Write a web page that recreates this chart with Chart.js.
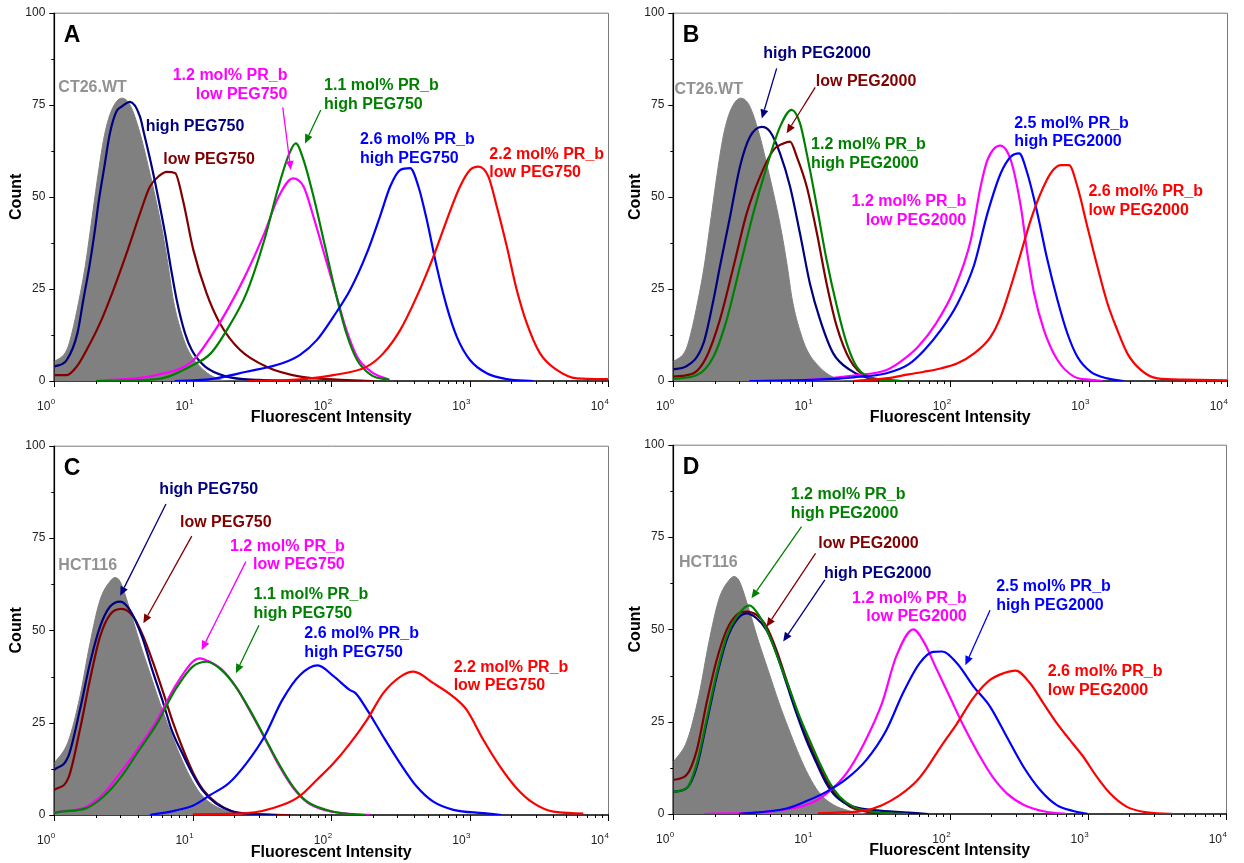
<!DOCTYPE html>
<html>
<head>
<meta charset="utf-8">
<script src="https://cdn.jsdelivr.net/npm/chart.js@4/dist/chart.umd.min.js"></script>
<style>
  body { margin: 0; background: #fff; }
  .panel { position: absolute; }
</style>
</head>
<body>
<canvas id="pA" class="panel" width="622" height="432" style="left:0;top:0"></canvas>
<canvas id="pB" class="panel" width="622" height="432" style="left:622px;top:0"></canvas>
<canvas id="pC" class="panel" width="622" height="431" style="left:0;top:432px"></canvas>
<canvas id="pD" class="panel" width="622" height="431" style="left:622px;top:432px"></canvas>
<script>
// histogram channels (fluorescence) and counts, one pair of arrays per curve

// CT26.WT control, panels A and B
const ct26X = [1, 1.23, 1.34, 1.51, 1.67, 1.81, 1.95, 2.11, 2.32, 2.6, 3.07, 3.52, 4.16, 4.78, 5.43, 6.07, 6.67, 7.24, 8.32, 9.25, 11.3, 14, 17.7, 25];
const ct26Y = [5.2, 8.4, 13, 22, 31, 40.2, 49.1, 58.2, 67.3, 73.6, 76.8, 75, 67.3, 58.2, 49.1, 40.2, 31, 22, 13, 8.4, 3.9, 1.2, 0, 0];
// HCT116 control, panels C and D
const hctX = [1, 1.26, 1.53, 1.81, 2.14, 2.52, 2.75, 2.99, 3.52, 4.16, 4.91, 5.81, 6.85, 8.09, 9.55, 11.3, 14.1, 18.6, 24.5];
const hctY = [14, 19.9, 32, 46.5, 58.2, 63.2, 64.3, 63.2, 55.5, 46.5, 38.4, 30.2, 23, 16.2, 10.4, 5.9, 2.7, 0.9, 0];

// panel A
const aHighX = [1, 1.23, 1.47, 1.62, 1.79, 1.95, 2.1, 2.3, 2.52, 2.82, 3.07, 3.52, 4.16, 4.45, 5.06, 5.68, 6.31, 6.93, 7.66, 8.79, 9.84, 12.3, 17.6, 30, 60];
const aHighY = [3.9, 5.7, 13, 22, 31, 40.1, 49.1, 58.2, 67.2, 73.3, 74.5, 75.8, 71.8, 67.2, 58.2, 49.1, 40.1, 31, 22, 13, 8.4, 3.9, 1.2, 0.3, 0];
const aLowX = [1, 1.23, 1.45, 1.71, 2.14, 2.67, 3.33, 4.16, 4.91, 5.81, 6.49, 7.45, 8.5, 10.1, 12.6, 15.7, 22, 34, 60, 110, 200];
const aLowY = [1.6, 1.6, 3.9, 8.4, 15.7, 24.7, 34.7, 45.5, 52.8, 55.9, 56.8, 56.5, 49.1, 35.6, 23.8, 15.7, 8.4, 3.9, 1.2, 0.4, 0];
const a12X = [2, 5.5, 10, 13.5, 18.2, 24.4, 32.9, 41.7, 53, 63.2, 75.7, 90.4, 108, 129, 154, 195, 263];
const a12Y = [0, 1.6, 5.5, 12, 20, 29.2, 40.1, 50, 55, 52.8, 43.7, 33.7, 23.8, 13.8, 6.6, 2.5, 0.3];
const a11X = [2, 5.5, 10, 13.5, 18.2, 24.4, 32.9, 41.7, 49.9, 55.5, 63.2, 75.7, 90.4, 108, 129, 154, 195, 263];
const a11Y = [0, 0.5, 4.3, 7.5, 14.7, 23.8, 38.3, 52.8, 61.8, 64.5, 60, 49.1, 36.5, 23.8, 12.9, 5.7, 1.6, 0.3];
const a26X = [7.4, 13.5, 24.4, 44.3, 59.6, 78.7, 104, 137, 181, 225, 267, 315, 372, 427, 491, 579, 684, 809, 1007, 1330, 1858, 2880];
const a26Y = [0, 0.5, 2.5, 4.8, 7.1, 11.1, 17.5, 24.7, 34.7, 44.6, 52.8, 57.3, 57.8, 52.8, 43.7, 31, 20.2, 12, 5.7, 2.1, 0.5, 0];
const a22X = [25, 63, 104, 181, 238, 315, 415, 547, 684, 853, 1007, 1159, 1368, 1574, 1858, 2193, 2588, 3228, 4266, 5957, 10000];
const a22Y = [0, 0.5, 1.6, 3.9, 7.5, 13.8, 22.9, 33.7, 43.7, 52.8, 57.3, 58.2, 55.5, 47.3, 36.5, 24.7, 15.7, 7.5, 3, 0.7, 0.5];

// panel B
const bHighX = [1, 1.23, 1.65, 1.95, 2.17, 2.57, 3.03, 3.58, 4.36, 5, 5.9, 6.97, 8.22, 9.7, 11.5, 14.3, 18.9, 26.3, 43.6];
const bHighY = [3.2, 3.9, 10.2, 22, 31, 44.6, 58.2, 66.3, 69, 67.7, 61.8, 52.8, 40.1, 26.5, 16.6, 7.5, 3, 0.7, 0];
const bLowX = [1, 1.4, 1.74, 2.17, 2.72, 3.39, 4.23, 5.28, 6.24, 6.97, 7.8, 9.2, 10.9, 12.8, 15.2, 18.9, 24.9, 39.8];
const bLowY = [1.2, 2.1, 6.6, 16.6, 31, 45.5, 55.5, 62.7, 64.5, 65, 60.9, 52.8, 40.1, 26.5, 14.7, 5.7, 1.2, 0];
const b12hiX = [1, 1.48, 1.95, 2.43, 3.03, 3.78, 4.73, 5.9, 7.16, 8.22, 9.2, 10.9, 12.8, 15.2, 17.9, 21.1, 27.9, 44.7];
const b12hiY = [0.6, 1.6, 6.6, 16.6, 31, 45.5, 58.2, 69, 73.6, 70, 61.8, 47.3, 32.9, 20.2, 10.2, 3.9, 0.7, 0];
const b12loX = [3.55, 10, 20, 34.7, 43.6, 58.6, 78.9, 106, 141, 166, 186, 230, 274, 324, 361, 404, 476, 596, 785, 1038, 1260];
const b12loY = [0, 0.4, 1.5, 3, 5.2, 9.3, 15.6, 24.5, 38.3, 52.8, 60, 63.9, 60, 47.3, 34.7, 23.8, 13.8, 5.7, 1.2, 0.3, 0];
const b25X = [3.55, 10, 20, 34.7, 50, 64.7, 85.5, 113, 149, 186, 232, 274, 315, 361, 427, 504, 596, 703, 830, 1038, 1368, 1800];
const b25Y = [0, 0.3, 1, 2.1, 4.5, 8.3, 13.8, 21, 31.5, 45.5, 56.4, 60.9, 61.8, 56.4, 45.5, 32.9, 22, 12.9, 6.6, 2.5, 0.7, 0];
const b26X = [20, 35.5, 50, 64.7, 85.5, 113, 149, 196, 232, 274, 324, 382, 451, 532, 628, 723, 830, 980, 1159, 1368, 1614, 1905, 2382, 3141, 4898, 10000];
const b26Y = [0, 0.8, 1.8, 2.5, 3.4, 4.8, 7.5, 12, 17.5, 25.6, 34.7, 43.7, 51, 56.4, 58.6, 58.6, 52.8, 41.9, 31, 21.1, 13.8, 7.5, 3, 0.7, 0.4, 0.2];

// panel C
const cHighX = [1, 1.26, 1.53, 1.81, 2.14, 2.52, 2.99, 3.52, 4.3, 5.1, 6.14, 7.05, 8.4, 9.9, 11.7, 14.6, 19, 26, 40];
const cHighY = [12.2, 15.8, 28.4, 41.1, 51, 56.4, 57.8, 55.5, 48.3, 39.3, 30.2, 23, 16.7, 11.3, 6.8, 3.2, 1.1, 0.3, 0];
const cLowX = [1, 1.26, 1.53, 1.81, 2.14, 2.52, 3.07, 3.72, 4.4, 5.19, 6.14, 7.24, 8.55, 10.1, 11.9, 14.9, 19.6, 27, 50];
const cLowY = [6.8, 9.9, 23, 36.6, 48.3, 54.2, 55.8, 53.7, 48.3, 41.1, 33, 24.8, 17.6, 11.3, 6.8, 3.2, 0.9, 0.3, 0];
const c11X = [1, 1.11, 1.69, 2.27, 3.05, 4.11, 5.53, 7.45, 10, 12.7, 16.1, 20.5, 25.9, 32.9, 41.7, 53, 67.1, 90.4, 129, 178];
const c11Y = [0.5, 0.9, 1.8, 5, 10.4, 17.6, 24.8, 33.8, 40.2, 41.5, 39.3, 34.7, 28.4, 21.2, 14, 7.7, 3.6, 1.5, 0.3, 0];
const c12X = [1, 1.11, 1.69, 2.27, 3.05, 4.11, 5.53, 7.45, 10, 11.3, 12.7, 16.1, 20.5, 25.9, 32.9, 41.7, 53, 67.1, 90.4, 129, 190];
const c12Y = [0.5, 0.9, 2.2, 5.8, 11.8, 18.5, 25.8, 34.8, 41.5, 42.4, 41.8, 39.5, 34.7, 28.2, 21, 13.6, 7.4, 3.4, 1.3, 0.4, 0];
const c26X = [4.9, 7.45, 10, 13.5, 18.2, 24.4, 32.9, 44.3, 59.6, 80, 104, 137, 150, 181, 238, 315, 415, 547, 764, 1260, 1700];
const c26Y = [0, 1.2, 2.5, 5.5, 8.6, 14, 21.2, 31.1, 37.9, 40.5, 37.6, 33.8, 33, 28.6, 21.2, 14, 7.7, 3.6, 1.4, 0.5, 0];
const c22X = [10, 24.4, 44.3, 59.6, 78.7, 104, 137, 181, 238, 315, 393, 547, 764, 955, 1259, 1660, 2193, 2897, 4036, 6637];
const c22Y = [0.2, 0.5, 2.7, 5.2, 9.5, 14, 19.4, 25.7, 33, 37.4, 38.8, 35.7, 32, 28.4, 20.3, 13.1, 7.2, 3.2, 0.9, 0.4];

// panel D
const dHighX = [1, 1.25, 1.48, 1.74, 2.06, 2.43, 2.87, 3.39, 4, 4.73, 5.58, 6.59, 7.78, 9.18, 10.9, 12.8, 15.1, 20, 31.1, 60.3, 70];
const dHighY = [6, 7, 12.8, 24.6, 37.2, 47.1, 52.5, 54.3, 53, 49.8, 43.5, 35.4, 27.3, 20, 13.7, 8.3, 4.7, 2, 0.9, 0.2, 0];
const dLowX = [1, 1.25, 1.48, 1.74, 2.06, 2.43, 2.87, 3.39, 4, 4.73, 5.58, 6.59, 7.78, 9.18, 10.9, 12.8, 15.1, 18.9, 24.9, 45];
const dLowY = [9.2, 10.6, 17.3, 30, 41.7, 49.8, 53.9, 54.8, 53.9, 50.7, 44.4, 36.3, 28.2, 20.9, 14.6, 9.2, 5.1, 2, 0.6, 0];
const d12hiX = [1, 1.25, 1.48, 1.74, 2.06, 2.43, 2.87, 3.55, 4.23, 5, 5.9, 6.97, 8.22, 9.7, 11.5, 13.6, 16, 20, 27.9, 50];
const d12hiY = [6, 7, 13.7, 25.5, 38.1, 48, 53.4, 56.5, 53.4, 48, 40.8, 33.6, 26.3, 20, 13.7, 8.3, 4.7, 2, 0.6, 0];
const d12loX = [1.66, 5.4, 9.86, 13.3, 17.9, 24, 32.4, 41, 54.6, 65.9, 78.9, 100, 127, 161, 204, 259, 348, 498, 700];
const d12loY = [0, 0.8, 2.9, 6, 11, 19.1, 30, 42.6, 50, 46.2, 39.9, 31.8, 23.6, 16.4, 10.1, 5.6, 2.4, 0.6, 0];
const d25X = [3, 6.6, 9.2, 12.8, 17.9, 24.9, 34.8, 45.9, 60.5, 75.7, 88, 113, 149, 196, 259, 342, 452, 596, 785, 1000];
const d25Y = [0, 1.5, 3.5, 6, 9.5, 14.6, 22.7, 32.7, 40.8, 43.9, 44, 40.8, 34.5, 29.1, 20.9, 12.8, 6.5, 2.4, 0.8, 0];
const d26X = [11.1, 24, 32.4, 43.6, 58.6, 70, 85.5, 113, 149, 196, 245, 300, 382, 476, 596, 743, 927, 1159, 1445, 1905, 2512, 4170];
const d26Y = [0.2, 0.9, 2.4, 5.1, 9.2, 13, 18, 24.5, 31.5, 36.3, 38.1, 38.8, 35.4, 30, 24.6, 20, 15.5, 10.1, 5.6, 2, 0.6, 0];

// axis ticks
const decades = [1, 10, 100, 1000, 10000];
const decadeExp = ["0", "1", "2", "3", "4"];
const countTicks = [0, 12.5, 25, 37.5, 50, 62.5, 75, 87.5, 100];

const FONT = 'Arial, "Liberation Sans", Helvetica, sans-serif';
const COL = {
  gray: "#808080", grayText: "#929292", navy: "#000080", maroon: "#800000",
  magenta: "#ff00ff", green: "#008000", blue: "#0000ff", red: "#ff0000",
};

function pts(xs, ys) { return xs.map((x, i) => ({ x, y: ys[i] })); }

function curve(xs, ys, color, order) {
  return { data: pts(xs, ys), borderColor: color, borderWidth: 2.2, pointRadius: 0,
    cubicInterpolationMode: "monotone", fill: false, order };
}
function control(xs, ys) {
  return { data: pts(xs, ys), borderColor: COL.gray, backgroundColor: COL.gray, borderWidth: 1,
    pointRadius: 0, cubicInterpolationMode: "monotone", fill: "origin", order: 10 };
}

function drawArrow(ctx, x1, y1, x2, y2, color) {
  const ang = Math.atan2(y2 - y1, x2 - x1);
  const len = 9, half = 4;
  const bx = x2 - len * Math.cos(ang), by = y2 - len * Math.sin(ang);
  ctx.strokeStyle = color; ctx.fillStyle = color; ctx.lineWidth = 1.3;
  ctx.beginPath(); ctx.moveTo(x1, y1); ctx.lineTo(bx, by); ctx.stroke();
  ctx.beginPath();
  ctx.moveTo(x2, y2);
  ctx.lineTo(bx + half * Math.sin(ang), by - half * Math.cos(ang));
  ctx.lineTo(bx - half * Math.sin(ang), by + half * Math.cos(ang));
  ctx.closePath(); ctx.fill();
}

// frame, tick marks, decade labels, panel letter and curve annotations
const deco = {
  id: "deco",
  beforeDatasetsDraw(chart) {
    const { ctx, chartArea: a, scales: { x, y } } = chart;
    ctx.save();
    ctx.strokeStyle = "#7a7a7a"; ctx.lineWidth = 1;
    ctx.beginPath();
    ctx.moveTo(a.left, a.top + 0.5); ctx.lineTo(a.right + 0.5, a.top + 0.5); ctx.lineTo(a.right + 0.5, a.bottom);
    ctx.stroke();

    ctx.strokeStyle = "#000"; ctx.lineWidth = 1;
    ctx.beginPath();
    for (const v of countTicks) {
      const py = Math.round(y.getPixelForValue(v)) + 0.5;
      const len = v % 25 === 0 ? 5 : 3;
      ctx.moveTo(a.left - len, py); ctx.lineTo(a.left, py);
    }
    for (let d = 0; d < 4; d++) {
      for (let m = 2; m <= 9; m++) {
        const px = Math.round(x.getPixelForValue(m * decades[d])) + 0.5;
        ctx.moveTo(px, a.bottom); ctx.lineTo(px, a.bottom + 3);
      }
    }
    for (const v of decades) {
      const px = Math.round(x.getPixelForValue(v)) + 0.5;
      ctx.moveTo(px, a.bottom); ctx.lineTo(px, a.bottom + 6);
    }
    ctx.stroke();

    ctx.lineWidth = 1.6;
    ctx.beginPath();
    ctx.moveTo(a.left, a.top); ctx.lineTo(a.left, a.bottom); ctx.lineTo(a.right + 1, a.bottom);
    ctx.stroke();
    ctx.restore();
  },
  afterDatasetsDraw(chart, args, o) {
    const { ctx, chartArea: a, scales: { x, y } } = chart;
    ctx.save();
    ctx.fillStyle = "#222";
    ctx.textBaseline = "alphabetic";
    decades.forEach((v, i) => {
      const px = x.getPixelForValue(v) - 4;
      ctx.font = `12px ${FONT}`; ctx.textAlign = "right";
      ctx.fillText("10", px, a.bottom + 29);
      ctx.font = `8px ${FONT}`; ctx.textAlign = "left";
      ctx.fillText(decadeExp[i], px + 0.5, a.bottom + 23);
    });

    ctx.fillStyle = "#000";
    ctx.font = `bold 23px ${FONT}`;
    ctx.textAlign = "left";
    ctx.fillText(o.letter, x.getPixelForValue(1.17), y.getPixelForValue(92));

    ctx.font = `bold 16px ${FONT}`;
    ctx.textBaseline = "middle";
    for (const l of o.labels) {
      ctx.fillStyle = l.color;
      ctx.textAlign = l.align || "left";
      const px = x.getPixelForValue(l.x), py = y.getPixelForValue(l.y);
      l.text.forEach((t, i) => ctx.fillText(t, px, py + i * 18.7));
    }
    for (const ar of o.arrows) {
      drawArrow(ctx, x.getPixelForValue(ar.from[0]), y.getPixelForValue(ar.from[1]),
        x.getPixelForValue(ar.to[0]), y.getPixelForValue(ar.to[1]), ar.color);
    }
    ctx.restore();
  },
};

function makePanel(id, p) {
  return new Chart(document.getElementById(id), {
    type: "line",
    data: { datasets: p.datasets },
    options: {
      responsive: false,
      animation: false,
      events: [],
      layout: { padding: { left: 0, top: p.top, right: p.right, bottom: 0 } },
      scales: {
        x: {
          type: "logarithmic", min: 1, max: 10000,
          ticks: { display: false }, grid: { display: false }, border: { display: false },
          title: { display: true, text: "Fluorescent Intensity", color: "#000",
            font: { family: FONT, size: 16, weight: "bold" }, padding: { top: 0, bottom: p.xTitlePad } },
          afterFit: (s) => { s.height = p.xHeight; },
        },
        y: {
          min: 0, max: 100,
          ticks: { stepSize: 25, color: "#222", padding: 4, font: { family: FONT, size: 12 } },
          grid: { display: false, drawTicks: true, tickLength: 5 }, border: { display: false },
          title: { display: true, text: "Count", color: "#000",
            font: { family: FONT, size: 16, weight: "bold" }, padding: { top: p.yTitlePad, bottom: 0 } },
          afterFit: (s) => { s.width = p.yWidth; },
        },
      },
      plugins: {
        legend: { display: false },
        tooltip: { enabled: false },
        deco: { letter: p.letter, labels: p.labels, arrows: p.arrows },
      },
    },
    plugins: [deco],
  });
}

makePanel("pA", {
  letter: "A", top: 12.7, right: 14, yWidth: 54.3, xHeight: 51, yTitlePad: 6.7, xTitlePad: 4.4,
  datasets: [
    control(ct26X, ct26Y),
    curve(aLowX, aLowY, COL.maroon, 6),
    curve(aHighX, aHighY, COL.navy, 5),
    curve(a12X, a12Y, COL.magenta, 4),
    curve(a11X, a11Y, COL.green, 3),
    curve(a26X, a26Y, COL.blue, 2),
    curve(a22X, a22Y, COL.red, 1),
  ],
  labels: [
    { text: ["CT26.WT"], x: 1.07, y: 79.6, color: COL.grayText },
    { text: ["high PEG750"], x: 4.57, y: 69.2, color: COL.navy },
    { text: ["low PEG750"], x: 6.13, y: 60, color: COL.maroon },
    { text: ["1.2 mol% PR_b", "low PEG750"], x: 48.3, y: 82.8, color: COL.magenta, align: "right" },
    { text: ["1.1 mol% PR_b", "high PEG750"], x: 88.9, y: 80.1, color: COL.green },
    { text: ["2.6 mol% PR_b", "high PEG750"], x: 161.8, y: 65.6, color: COL.blue },
    { text: ["2.2 mol% PR_b", "low PEG750"], x: 1390, y: 61.6, color: COL.red },
  ],
  arrows: [
    { from: [44.7, 74.3], to: [51.1, 57.3], color: COL.magenta },
    { from: [84.1, 73.6], to: [64.7, 64.5], color: COL.green },
  ],
});

makePanel("pB", {
  letter: "B", top: 12.7, right: 17, yWidth: 51.3, xHeight: 51, yTitlePad: 3.9, xTitlePad: 4.4,
  datasets: [
    control(ct26X, ct26Y),
    curve(bLowX, bLowY, COL.maroon, 5),
    curve(bHighX, bHighY, COL.navy, 6),
    curve(b12loX, b12loY, COL.magenta, 4),
    curve(b12hiX, b12hiY, COL.green, 3),
    curve(b25X, b25Y, COL.blue, 2),
    curve(b26X, b26Y, COL.red, 1),
  ],
  labels: [
    { text: ["CT26.WT"], x: 1.02, y: 79, color: COL.grayText },
    { text: ["high PEG2000"], x: 4.47, y: 89, color: COL.navy },
    { text: ["low PEG2000"], x: 10.7, y: 81.3, color: COL.maroon },
    { text: ["1.2 mol% PR_b", "high PEG2000"], x: 9.89, y: 64.1, color: COL.green },
    { text: ["1.2 mol% PR_b", "low PEG2000"], x: 130.7, y: 48.7, color: COL.magenta, align: "right" },
    { text: ["2.5 mol% PR_b", "high PEG2000"], x: 290, y: 70, color: COL.blue },
    { text: ["2.6 mol% PR_b", "low PEG2000"], x: 997, y: 51.4, color: COL.red },
  ],
  arrows: [
    { from: [5.58, 84.9], to: [4.36, 71.3], color: COL.navy },
    { from: [10.6, 79.7], to: [6.59, 67.3], color: COL.maroon },
  ],
});

makePanel("pC", {
  letter: "C", top: 13.7, right: 14, yWidth: 54.3, xHeight: 48, yTitlePad: 6.7, xTitlePad: 0.9,
  datasets: [
    control(hctX, hctY),
    curve(cLowX, cLowY, COL.maroon, 6),
    curve(cHighX, cHighY, COL.navy, 5),
    curve(c12X, c12Y, COL.magenta, 4),
    curve(c11X, c11Y, COL.green, 3),
    curve(c26X, c26Y, COL.blue, 2),
    curve(c22X, c22Y, COL.red, 1),
  ],
  labels: [
    { text: ["HCT116"], x: 1.07, y: 67.5, color: COL.grayText },
    { text: ["high PEG750"], x: 5.74, y: 88, color: COL.navy },
    { text: ["low PEG750"], x: 8.09, y: 79.3, color: COL.maroon },
    { text: ["1.2 mol% PR_b", "low PEG750"], x: 125.3, y: 72.8, color: COL.magenta, align: "right" },
    { text: ["1.1 mol% PR_b", "high PEG750"], x: 27.5, y: 59.6, color: COL.green },
    { text: ["2.6 mol% PR_b", "high PEG750"], x: 64, y: 49, color: COL.blue },
    { text: ["2.2 mol% PR_b", "low PEG750"], x: 767, y: 40, color: COL.red },
  ],
  arrows: [
    { from: [6.41, 84.2], to: [2.99, 59.4], color: COL.navy },
    { from: [9.84, 75.5], to: [4.4, 51.9], color: COL.maroon },
    { from: [24.2, 68.6], to: [11.6, 44.7], color: COL.magenta },
    { from: [30.1, 51.4], to: [20.5, 38.4], color: COL.green },
  ],
});

makePanel("pD", {
  letter: "D", top: 12.7, right: 18, yWidth: 51.3, xHeight: 49, yTitlePad: 3.9, xTitlePad: 2.4,
  datasets: [
    control(hctX, hctY),
    curve(dLowX, dLowY, COL.maroon, 6),
    curve(dHighX, dHighY, COL.navy, 5),
    curve(d12loX, d12loY, COL.magenta, 4),
    curve(d12hiX, d12hiY, COL.green, 3),
    curve(d25X, d25Y, COL.blue, 2),
    curve(d26X, d26Y, COL.red, 1),
  ],
  labels: [
    { text: ["HCT116"], x: 1.1, y: 68.2, color: COL.grayText },
    { text: ["1.2 mol% PR_b", "high PEG2000"], x: 7.08, y: 86.4, color: COL.green },
    { text: ["low PEG2000"], x: 11.2, y: 73.3, color: COL.maroon },
    { text: ["high PEG2000"], x: 12.3, y: 65.2, color: COL.navy },
    { text: ["1.2 mol% PR_b", "low PEG2000"], x: 133, y: 58.4, color: COL.magenta, align: "right" },
    { text: ["2.5 mol% PR_b", "high PEG2000"], x: 217, y: 61.6, color: COL.blue },
    { text: ["2.6 mol% PR_b", "low PEG2000"], x: 513, y: 38.5, color: COL.red },
  ],
  arrows: [
    { from: [8.47, 77.8], to: [3.68, 58.4], color: COL.green },
    { from: [10.7, 70.6], to: [4.73, 50.7], color: COL.maroon },
    { from: [12.5, 63.4], to: [6.24, 46.7], color: COL.navy },
    { from: [196, 55.2], to: [130, 40.3], color: COL.blue },
  ],
});
</script>
</body>
</html>
